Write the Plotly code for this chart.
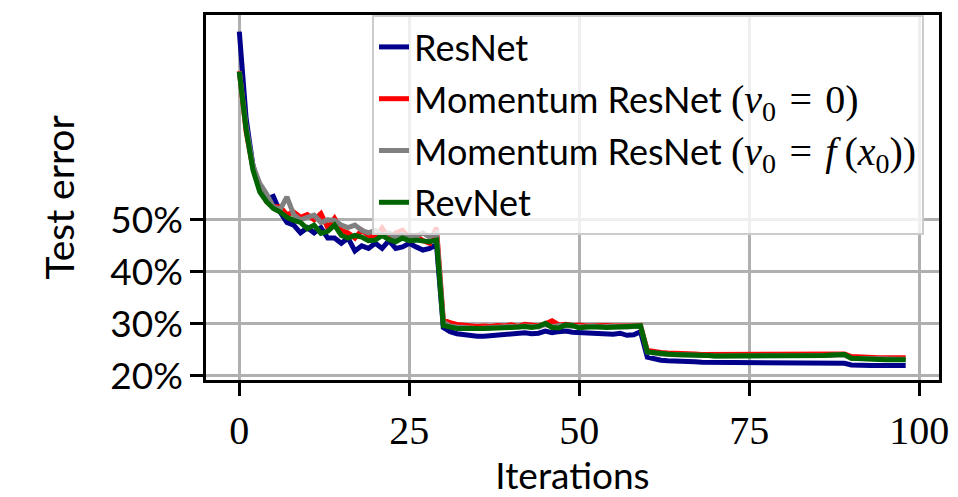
import plotly.graph_objects as go

iterations = list(range(99))

resnet = [86.2, 69.5, 60.5, 56.0, 54.0, 54.5, 51.5, 49.5, 49.0, 47.5,
          48.5, 47.5, 48.5, 46.5, 46.5, 45.5, 46.5, 44.0, 45.0, 44.5,
          45.5, 44.5, 46.0, 44.5, 44.8, 45.5, 44.8, 44.2, 44.5, 45.2,
          29.3, 28.5, 28.1, 27.9, 27.8, 27.6, 27.6, 27.7, 27.8, 28.0,
          28.1, 28.0, 28.3, 28.1, 28.2, 28.6, 28.3, 28.5, 28.6, 28.4,
          28.3, 28.4, 28.1, 28.2, 28.1, 28.0, 28.2, 27.8, 27.9, 28.5,
          23.6, 23.2, 23.0, 22.9, 22.9, 22.8, 22.7, 22.7, 22.6, 22.6,
          22.6, 22.5, 22.5, 22.6, 22.5, 22.5, 22.4, 22.4, 22.4, 22.4,
          22.5, 22.4, 22.5, 22.4, 22.5, 22.5, 22.4, 22.6, 22.5, 22.4,
          22.1, 22.0, 22.0, 22.0, 22.0, 21.9, 22.0, 22.0, 22.0]

momentum_v0_zero = [78.6, 67.0, 60.0, 56.0, 53.5, 52.5, 52.5, 51.0, 51.5, 50.5,
                    51.0, 50.0, 51.2, 48.5, 50.3, 48.0, 47.5, 46.5, 48.0, 47.0,
                    46.5, 48.4, 46.5, 47.5, 48.0, 46.5, 47.0, 46.0, 45.5, 48.5,
                    30.8, 30.2, 29.9, 29.7, 29.6, 29.5, 29.6, 29.5, 29.7, 29.6,
                    29.8, 29.5, 29.9, 29.8, 29.6, 30.0, 30.6, 29.8, 29.9, 29.7,
                    29.8, 29.6, 29.7, 29.8, 29.7, 29.6, 29.7, 29.6, 29.6, 29.7,
                    24.9, 24.6, 24.5, 24.4, 24.4, 24.3, 24.3, 24.2, 24.1, 24.1,
                    24.1, 24.0, 24.0, 24.0, 24.1, 24.0, 24.0, 24.1, 24.0, 24.0,
                    24.0, 24.1, 24.0, 24.1, 24.1, 24.1, 24.1, 24.2, 24.2, 24.2,
                    23.7, 23.6, 23.6, 23.5, 23.5, 23.5, 23.5, 23.5, 23.5]

momentum_v0_fx0 = [78.5, 68.0, 60.5, 57.0, 55.0, 52.5, 52.0, 54.4, 51.0, 50.0,
                   50.5, 50.9, 49.5, 50.0, 49.9, 49.0, 48.5, 49.0, 48.0, 47.5,
                   48.0, 47.0, 47.5, 46.5, 47.2, 46.5, 46.8, 47.5, 46.7, 47.5,
                   30.3, 29.6, 29.4, 29.2, 29.2, 29.1, 29.2, 29.3, 29.3, 29.4,
                   29.5, 29.4, 29.6, 29.5, 29.4, 29.9, 29.4, 29.7, 29.6, 29.7,
                   29.5, 29.4, 29.6, 29.4, 29.5, 29.4, 29.5, 29.4, 29.5, 29.6,
                   24.6, 24.3, 24.2, 24.1, 24.1, 24.0, 24.0, 23.9, 23.9, 23.9,
                   23.8, 23.8, 23.8, 23.8, 23.8, 23.7, 23.8, 23.8, 23.7, 23.7,
                   23.8, 23.8, 23.8, 23.8, 23.8, 23.8, 23.8, 23.9, 24.0, 24.0,
                   23.4, 23.3, 23.3, 23.3, 23.3, 23.2, 23.2, 23.2, 23.2]

revnet = [78.5, 67.3, 59.6, 55.4, 53.5, 52.2, 51.5, 50.5, 49.9, 49.5,
          48.3, 49.0, 47.4, 47.8, 49.0, 47.0, 46.5, 47.0, 46.7, 46.0,
          46.1, 47.0, 46.2, 45.8, 46.5, 46.0, 46.1, 45.9, 45.8, 46.1,
          29.7, 29.4, 29.1, 29.1, 29.0, 29.1, 29.1, 29.1, 29.2, 29.3,
          29.3, 29.4, 29.5, 29.3, 29.5, 30.1, 29.3, 29.2, 29.8, 29.7,
          29.2, 29.4, 29.5, 29.4, 29.3, 29.4, 29.5, 29.5, 29.5, 29.6,
          24.6, 24.4, 24.3, 24.2, 24.1, 24.1, 24.0, 23.9, 23.9, 23.9,
          23.8, 23.8, 23.8, 23.7, 23.8, 23.7, 23.7, 23.7, 23.7, 23.7,
          23.7, 23.7, 23.8, 23.8, 23.8, 23.8, 23.9, 24.0, 24.0, 24.1,
          23.4, 23.3, 23.2, 23.2, 23.2, 23.1, 23.1, 23.1, 23.1]

serif = "Liberation Serif"
sp = "\u2004"
math_open = '<span style="font-family:' + serif + ';font-size:40px">'
labels = [
    "ResNet",
    "Momentum ResNet " + math_open + "(<i>v</i><sub>0</sub>" + sp + "=" + sp + "0)</span>",
    "Momentum ResNet " + math_open + "(<i>v</i><sub>0</sub>" + sp + "=" + sp
    + "<i>f</i>\u2009(<i>x</i><sub>0</sub>))</span>",
    "RevNet",
]
series = [resnet, momentum_v0_zero, momentum_v0_fx0, revnet]
colors = ["#00008b", "#ff0000", "#808080", "#006400"]

y_tickvals = [20, 30, 40, 50]
y_ticktext = ["20%", "30%", "40%", "50%"]
x_tickvals = [0, 25, 50, 75, 100]
x_ticktext = ["0", "25", "50", "75", "100"]

fig = go.Figure()
for name, vals, col in zip(labels, series, colors):
    fig.add_trace(go.Scatter(
        x=iterations, y=vals, mode="lines", name=name,
        legendgroup=name,
        line=dict(color=col, width=5),
    ))

sans = "Lato"
fig.update_layout(
    width=958, height=497,
    margin=dict(l=206, r=19, t=15, b=117),
    paper_bgcolor="white", plot_bgcolor="white",
    font=dict(family=sans, color="black", size=37),
    showlegend=True,
    legend=dict(
        x=0.2265, y=1.0, xanchor="left", yanchor="top",
        bgcolor="rgba(255,255,255,0.8)", bordercolor="#cccccc", borderwidth=2,
        font=dict(family=sans, size=36, color="black"),
        itemwidth=30, tracegroupgap=2,
    ),
    xaxis=dict(
        range=[-4.9, 102.9], automargin=False,
        tickvals=x_tickvals, ticktext=x_ticktext,
        tickfont=dict(family=serif, size=40, color="black"),
        showline=True, linecolor="black", linewidth=2.5, mirror=True,
        ticks="outside", ticklen=13, tickwidth=2.5, tickcolor="black",
        showgrid=True, gridcolor="#b0b0b0", gridwidth=2.5,
        zeroline=False,
        title=dict(text="Iterations", font=dict(family=sans, size=37), standoff=17),
    ),
    yaxis=dict(
        range=[19.2, 89.4], automargin=False,
        tickvals=y_tickvals, ticktext=y_ticktext,
        tickfont=dict(family=sans, size=37, color="black"),
        showline=True, linecolor="black", linewidth=2.5, mirror=True,
        ticks="outside", ticklen=13, tickwidth=2.5, tickcolor="black",
        showgrid=True, gridcolor="#b0b0b0", gridwidth=2.5,
        zeroline=False,
        title=dict(text="Test error", font=dict(family=sans, size=39), standoff=24),
    ),
)

fig.write_html("out.html")
